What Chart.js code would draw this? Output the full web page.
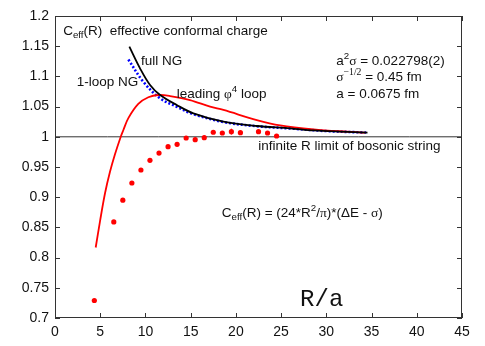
<!DOCTYPE html>
<html>
<head>
<meta charset="utf-8">
<script src="https://cdn.jsdelivr.net/npm/chart.js@4"></script>
<style>
  html, body { margin: 0; padding: 0; background: #fff; }
  #wrap { width: 485px; height: 346px; }
</style>
</head>
<body>
<div id="wrap"><canvas id="ceff"></canvas></div>
<script>
// ----- data -----
// lattice points C_eff(R)
const latR = [4.35, 6.5, 7.5, 8.5, 9.5, 10.5, 11.5, 12.5, 13.5, 14.5, 15.5, 16.5, 17.5, 18.5, 19.5, 20.5, 22.5, 23.5, 24.5];
const latC = [0.729, 0.859, 0.895, 0.9235, 0.945, 0.961, 0.973, 0.9836, 0.9876, 0.998, 0.9952, 0.9985, 1.0075, 1.0063, 1.0085, 1.0068, 1.0085, 1.0063, 1.0013];
const latErr = [0, 0, 0, 0, 0, 0, 0, 0, 0, 0, 0, 0, 0, 0, 0.005, 0, 0, 0, 0.002];

// full Nambu-Goto
const fullR = [8.22, 9.4, 10.51, 11.62, 13.46, 15.3, 18.62, 22.31, 25.99, 28.6, 31.5, 34.55];
const fullC = [1.1492, 1.1134, 1.0858, 1.0692, 1.0526, 1.0389, 1.025, 1.0179, 1.0141, 1.0105, 1.0085, 1.007];

// 1-loop NG
const loopR = [8.11, 9.77, 11.62, 13.46, 15.3, 18.62, 22.31, 26, 30, 34.4];
const loopC = [1.128, 1.091, 1.0637, 1.0498, 1.0375, 1.0245, 1.0175, 1.0138, 1.0095, 1.007];

// leading phi^4 loop
const phiR = [4.5, 4.98, 5.53, 6.08, 6.64, 7.27, 7.56, 8.11, 9.21, 10.32, 11.43, 12.72, 14.93, 17.15, 18.62, 22.31, 24.9, 28.57, 32.3, 34.3];
const phiC = [0.8167, 0.8605, 0.9065, 0.942, 0.9715, 1.0002, 1.0113, 1.031, 1.0545, 1.0654, 1.0692, 1.0675, 1.0609, 1.0498, 1.0444, 1.0278, 1.019, 1.0124, 1.0084, 1.0068];

// infinite R limit
const limitR = [0, 45];
const limitC = [1, 1];

// axes
const xMin = 0, xMax = 45, xStep = 5;
const yMin = 0.7, yMax = 1.2, yStep = 0.05;

const pts = (xs, ys) => xs.map((x, i) => ({ x, y: ys[i] }));

const SANS = '"Liberation Sans", Arial, Helvetica, sans-serif';
const SERIF = '"Liberation Serif", "Times New Roman", serif';

// text pieces: [text, kind, font]  kind: '', 'sub', 'sup'
const labels = [
  { x: 0.9, y: 1.175, parts: [['C'], ['eff', 'sub'], ['(R)  effective conformal charge']] },
  { x: 9.5, y: 1.1244, parts: [['full NG']] },
  { x: 2.4, y: 1.0896, parts: [['1-loop NG']] },
  { x: 13.46, y: 1.0709, parts: [['leading '], ['\u03C6', '', SERIF], ['4', 'sup'], [' loop']] },
  { x: 31.1, y: 1.1244, parts: [['a'], ['2', 'sup'], ['\u03C3', '', SERIF], [' = 0.022798(2)']] },
  { x: 31.1, y: 1.0985, parts: [['\u03C3', '', SERIF], ['\u22121/2', 'sup', SERIF], [' = 0.45 fm']] },
  { x: 31.1, y: 1.0704, parts: [['a = 0.0675 fm']] },
  { x: 22.46, y: 0.9836, parts: [['infinite R limit of bosonic string']] },
  { x: 18.44, y: 0.8738, parts: [['C'], ['eff', 'sub'], ['(R) = (24*R'], ['2', 'sup'], ['/'], ['\u03C0', '', SERIF], [')*(\u0394E - '], ['\u03C3', '', SERIF], [')']] },
];

function drawRich(ctx, x, y, parts, size) {
  let cx = x;
  parts.forEach(([t, kind, fam]) => {
    const s = kind ? size * 0.72 : size;
    const dy = kind === 'sub' ? size * 0.3 : kind === 'sup' ? -size * 0.38 : 0;
    ctx.font = `${s}px ${fam || SANS}`;
    ctx.fillText(t, cx, y + dy);
    cx += ctx.measureText(t).width;
  });
}

// frame, inward ticks, error bars, text
const decor = {
  id: 'decor',
  afterDatasetsDraw(chart) {
    const { ctx, chartArea: a, scales: { x, y } } = chart;
    ctx.save();
    // error bars
    ctx.strokeStyle = '#ff0000';
    ctx.lineWidth = 1;
    latR.forEach((r, i) => {
      if (!latErr[i]) return;
      const px = x.getPixelForValue(r);
      ctx.beginPath();
      ctx.moveTo(px, y.getPixelForValue(latC[i] - latErr[i]));
      ctx.lineTo(px, y.getPixelForValue(latC[i] + latErr[i]));
      ctx.stroke();
    });
    // frame
    ctx.strokeStyle = '#333';
    ctx.lineWidth = 1;
    ctx.strokeRect(a.left + 0.5, a.top + 0.5, a.right - a.left - 1, a.bottom - a.top - 1);
    const tl = 5;
    ctx.beginPath();
    for (let v = xMin; v <= xMax + 1e-9; v += xStep) {
      const px = Math.round(x.getPixelForValue(v)) + 0.5;
      ctx.moveTo(px, a.bottom); ctx.lineTo(px, a.bottom - tl);
      ctx.moveTo(px, a.top); ctx.lineTo(px, a.top + tl);
    }
    for (let v = yMin; v <= yMax + 1e-9; v += yStep) {
      const py = Math.round(y.getPixelForValue(v)) + 0.5;
      ctx.moveTo(a.left, py); ctx.lineTo(a.left + tl, py);
      ctx.moveTo(a.right, py); ctx.lineTo(a.right - tl, py);
    }
    ctx.stroke();
    // labels
    ctx.fillStyle = '#111';
    ctx.textBaseline = 'middle';
    ctx.textAlign = 'left';
    labels.forEach(l => drawRich(ctx, x.getPixelForValue(l.x), y.getPixelForValue(l.y), l.parts, 13.5));
    // axis title inside the plot
    ctx.font = '24px "Liberation Mono", "Courier New", monospace';
    ctx.fillText('R/a', x.getPixelForValue(27.1), y.getPixelForValue(0.7298));
    ctx.restore();
  }
};

const lineDs = (label, data, color, width, dash, order) => ({
  label, data, type: 'line', showLine: true, fill: false,
  borderColor: color, borderWidth: width, borderDash: dash,
  pointRadius: 0, tension: 0.35, order,
});

new Chart(document.getElementById('ceff'), {
  type: 'scatter',
  data: {
    datasets: [
      lineDs('infinite R limit', pts(limitR, limitC), '#333', 1, [], 5),
      lineDs('leading phi4 loop', pts(phiR, phiC), '#ff0000', 1.8, [], 3),
      lineDs('1-loop NG', pts(loopR, loopC), '#0000ff', 2.6, [2, 2], 4),
      lineDs('full NG', pts(fullR, fullC), '#000000', 1.8, [], 2),
      {
        label: 'C_eff(R)', data: pts(latR, latC), type: 'scatter',
        pointRadius: 2.6, pointBackgroundColor: '#ff0000', pointBorderWidth: 0,
        showLine: false, order: 1,
      },
    ]
  },
  options: {
    responsive: true,
    maintainAspectRatio: false,
    animation: false,
    layout: { padding: { top: 16, right: 23, left: 0, bottom: 0 } },
    plugins: { legend: { display: false }, tooltip: { enabled: false } },
    scales: {
      x: {
        type: 'linear', min: xMin, max: xMax,
        grid: { display: false, drawTicks: false },
        border: { display: false },
        ticks: { stepSize: xStep, padding: 6, color: '#111', font: { family: SANS, size: 14 } },
        afterFit: s => { s.height = 28; },
      },
      y: {
        min: yMin, max: yMax,
        grid: { display: false, drawTicks: false },
        border: { display: false },
        ticks: {
          stepSize: yStep, padding: 6, color: '#111', font: { family: SANS, size: 14 },
          callback: v => String(Number(v.toFixed(2))),
        },
        afterFit: s => { s.width = 55; },
      }
    }
  },
  plugins: [decor]
});
</script>
</body>
</html>
